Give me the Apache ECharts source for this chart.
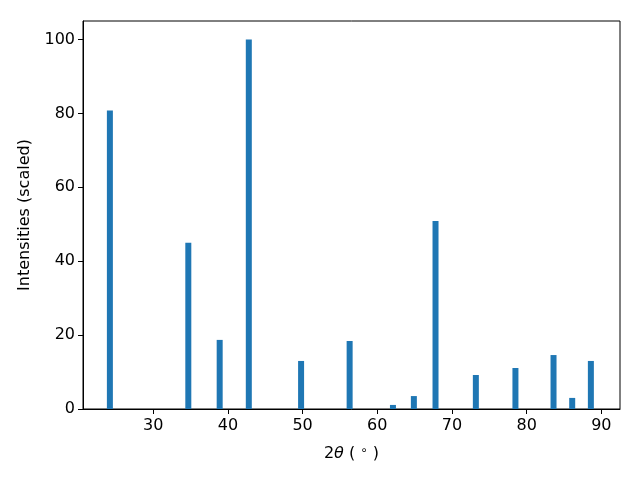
<!DOCTYPE html>
<html>
<head>
<meta charset="utf-8">
<script src="https://cdn.jsdelivr.net/npm/echarts@6/dist/echarts.min.js"></script>
<style>html,body{margin:0;padding:0;background:#fff}#c{width:640px;height:480px}</style>
</head>
<body>
<div id="c"></div>
<script>
const twoTheta = [24.2, 34.7, 38.9, 42.8, 49.8, 56.3, 62.1, 64.9, 67.8, 73.2, 78.5, 83.6, 86.1, 88.6];
const intensity = [80.8, 45.0, 18.7, 100, 13.0, 18.4, 1.1, 3.5, 50.9, 9.2, 11.1, 14.6, 3.0, 13.0];
const xTicks = [30, 40, 50, 60, 70, 80, 90];
const yTicks = [0, 20, 40, 60, 80, 100];

const font = 'DejaVu Sans';
const chart = echarts.init(document.getElementById('c'), null, {renderer: 'canvas'});
chart.setOption({
  animation: false,
  backgroundColor: '#fff',
  grid: {left: 83, right: 20, top: 21, bottom: 71, show: true, borderColor: '#000', borderWidth: 1, backgroundColor: 'transparent'},
  xAxis: {
    type: 'value', min: 20.6, max: 92.5,
    splitLine: {show: false},
    axisLine: {show: true, onZero: false, lineStyle: {color: '#000', width: 1}},
    axisTick: {show: true, length: 5, inside: false, customValues: xTicks, lineStyle: {color: '#000'}},
    axisLabel: {customValues: xTicks, color: '#000', fontFamily: font, fontSize: 16, margin: 9},
    name: '{n|2}{i|θ}{n| ( }{s|∘}{n| )}',
    nameLocation: 'middle', nameGap: 36,
    nameTextStyle: {
      rich: {
        n: {fontFamily: font, fontSize: 16, color: '#000'},
        i: {fontFamily: font, fontSize: 16, fontStyle: 'italic', color: '#000'},
        s: {fontFamily: font, fontSize: 12, color: '#000', verticalAlign: 'top', padding: [0, 0, 6, 0]}
      }
    }
  },
  yAxis: {
    type: 'value', min: 0, max: 105,
    splitLine: {show: false},
    axisLine: {show: true, lineStyle: {color: '#000', width: 1}},
    axisTick: {show: true, length: 5, customValues: yTicks, lineStyle: {color: '#000'}},
    axisLabel: {customValues: yTicks, color: '#000', fontFamily: font, fontSize: 16, margin: 8},
    name: 'Intensities (scaled)',
    nameLocation: 'middle', nameGap: 50, nameRotate: 90,
    nameTextStyle: {fontFamily: font, fontSize: 16, color: '#000'}
  },
  series: [{
    type: 'bar',
    data: twoTheta.map((x, i) => [x, intensity[i]]),
    barWidth: 6,
    itemStyle: {color: '#1f77b4'}
  }]
});
</script>
</body>
</html>
